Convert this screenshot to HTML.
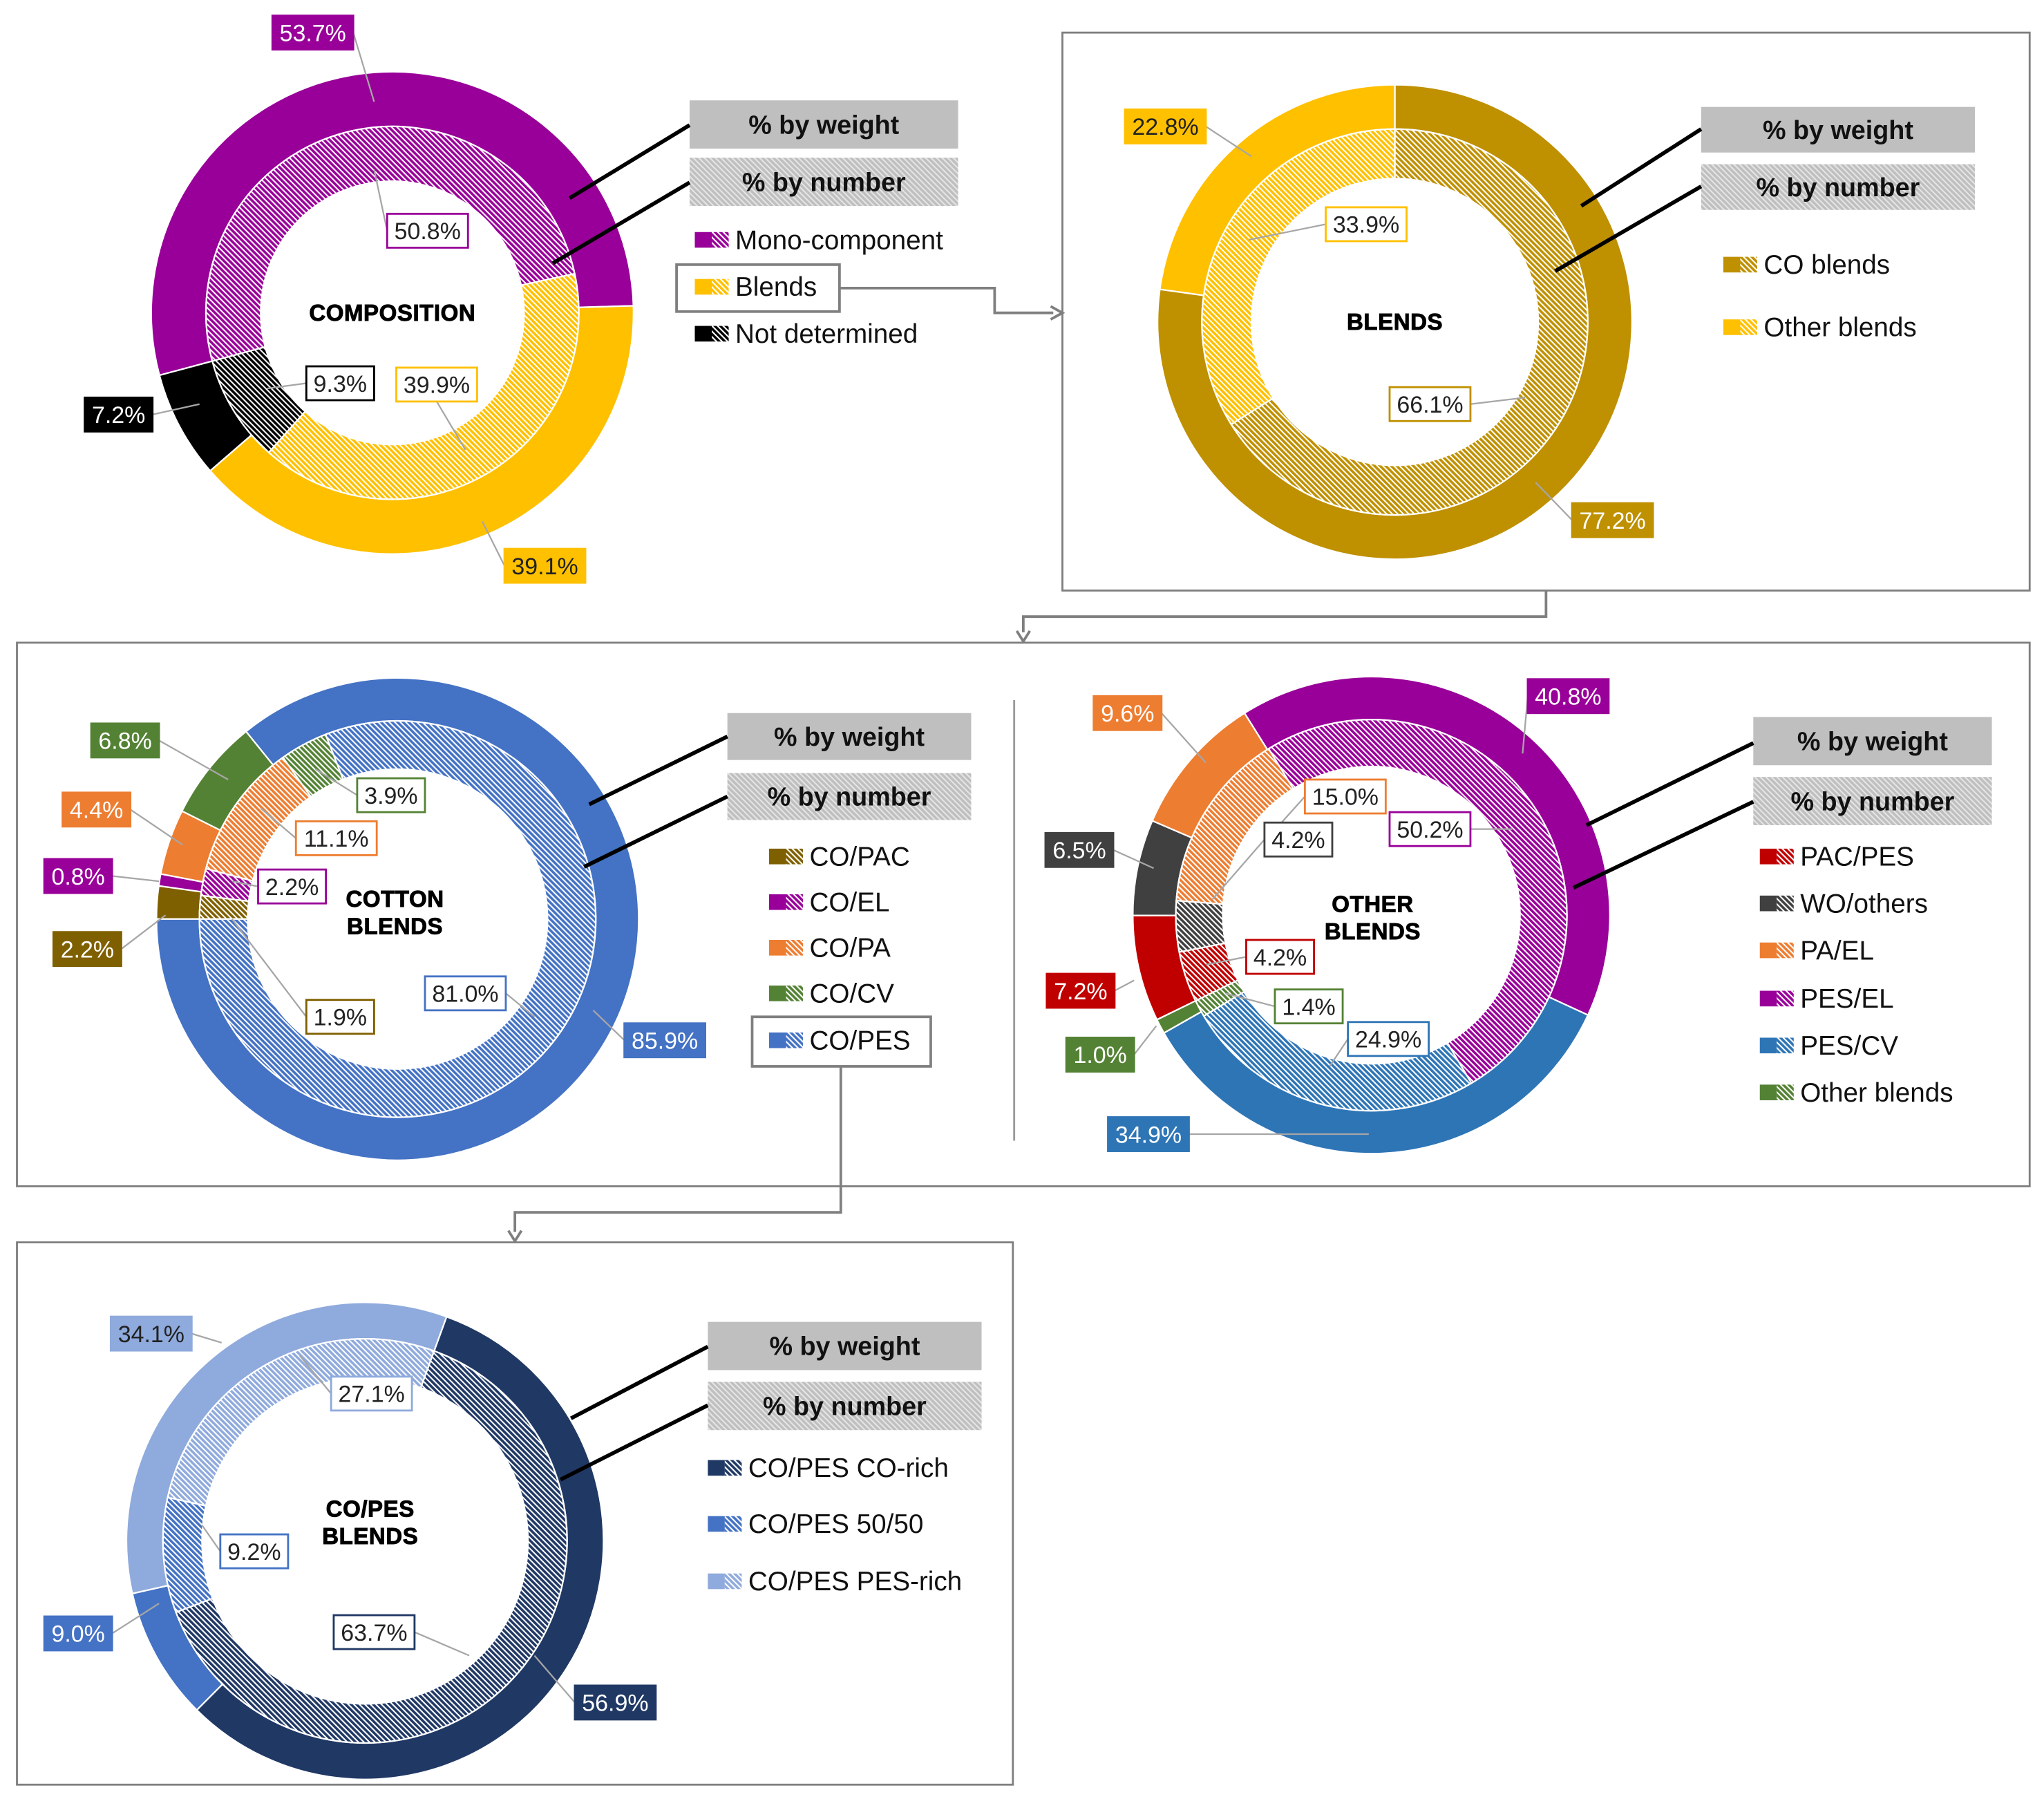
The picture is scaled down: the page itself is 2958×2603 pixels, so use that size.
<!DOCTYPE html>
<html><head><meta charset="utf-8"><style>
html,body{margin:0;padding:0;background:#fff;}
svg{display:block;font-family:"Liberation Sans",Arial,sans-serif;}
</style></head><body>
<svg id="fig" xmlns="http://www.w3.org/2000/svg" width="2958" height="2603" viewBox="0 0 1568 1380" preserveAspectRatio="none">
<defs id="defs"></defs>
<g id="frames" fill="none" stroke="#7f7f7f" stroke-width="1.5">
<rect x="815" y="25" width="742" height="428"/>
<rect x="13" y="493" width="1544" height="417"/>
<line x1="778" y1="537" x2="778" y2="875" stroke="#999"/>
<rect x="13" y="953" width="764" height="416"/>
<polyline points="644,221 763,221 763,240 808,240" stroke-width="2"/>
<polyline points="1186,453 1186,473 785,473 785,485" stroke-width="2"/>
<polyline points="645,818 645,930 395,930 395,945" stroke-width="2"/>
<path d="M806,235 L815,240 L806,245" stroke-width="2"/>
<path d="M780,484 L785,492 L790,484" stroke-width="2"/>
<path d="M390,944 L395,952 L400,944" stroke-width="2"/>
</g>
<g id="charts"></g>
</svg>
<script>
// ---------- data ----------
const compCategories = ["Mono-component","Blends","Not determined"];
const compWeight = [53.7, 39.1, 7.2];
const compNumber = [50.8, 39.9, 9.3];
const blendCategories = ["CO blends","Other blends"];
const blendWeight = [77.2, 22.8];
const blendNumber = [66.1, 33.9];
const cottonCategories = ["CO/PAC","CO/EL","CO/PA","CO/CV","CO/PES"];
const cottonWeight = [2.2, 0.8, 4.4, 6.8, 85.9];
const cottonNumber = [1.9, 2.2, 11.1, 3.9, 81.0];
const otherCategories = ["PAC/PES","WO/others","PA/EL","PES/EL","PES/CV","Other blends"];
const otherWeight = [7.2, 6.5, 9.6, 40.8, 34.9, 1.0];
const otherNumber = [4.2, 4.2, 15.0, 50.2, 24.9, 1.4];
const copesCategories = ["CO/PES CO-rich","CO/PES 50/50","CO/PES PES-rich"];
const copesWeight = [56.9, 9.0, 34.1];
const copesNumber = [63.7, 9.2, 27.1];

// ---------- layout ----------
const NS = "http://www.w3.org/2000/svg";
const defs = document.getElementById('defs');
const root = document.getElementById('charts');
function el(tag, attrs, parent){const e=document.createElementNS(NS,tag);for(const k in attrs)e.setAttribute(k,attrs[k]);(parent||root).appendChild(e);return e;}
let patN=0; const patCache={};
function pat(color){
  if(patCache[color])return patCache[color];
  const id='p'+(patN++);
  const p=el('pattern',{id:id,patternUnits:'userSpaceOnUse',width:3,height:3,patternTransform:'rotate(-45)'},defs);
  el('rect',{width:3,height:3,fill:'#fff'},p);
  el('rect',{x:0,y:0,width:1.9,height:3,fill:color},p);
  patCache[color]='url(#'+id+')';return patCache[color];
}
function pt(cx,cy,r,a){const t=a*Math.PI/180;return [cx+r*Math.sin(t),cy-r*Math.cos(t)];}
function arc(cx,cy,r0,r1,a0,a1){
  const large=(a1-a0)>180?1:0;
  const p1=pt(cx,cy,r1,a0),p2=pt(cx,cy,r1,a1),p3=pt(cx,cy,r0,a1),p4=pt(cx,cy,r0,a0);
  return `M${p1[0]},${p1[1]} A${r1},${r1} 0 ${large} 1 ${p2[0]},${p2[1]} L${p3[0]},${p3[1]} A${r0},${r0} 0 ${large} 0 ${p4[0]},${p4[1]} Z`;
}
function ring(g,cx,cy,r0,r1,vals,colors,start,hatched,cats,prefix){
  const tot=vals.reduce((a,b)=>a+b,0); let a=start;
  vals.forEach((v,i)=>{
    const a1=a+v/tot*360;
    const p=el('path',{d:arc(cx,cy,r0,r1,a,a1),fill:hatched?pat(colors[i]):colors[i],stroke:'#fff','stroke-width':1.2},g);
    
    
    a=a1;
  });
}
function label(g,txt,cx,cy,fill,tcol,border,lx,ly){
  const w=txt.length>4?62:52,h=26;
  if(lx!==undefined){
    const side = lx<cx-w/2 ? cx-w/2 : (lx>cx+w/2 ? cx+w/2 : cx);
    const sy = side===cx ? (ly<cy?cy-h/2:cy+h/2) : cy;
    const l=el('polyline',{points:`${side},${sy} ${lx},${ly}`,fill:'none',stroke:'#a6a6a6','stroke-width':1.2},g);
    
    
  }
  const r=el('rect',{x:cx-w/2,y:cy-h/2,width:w,height:h,fill:fill,stroke:border,'stroke-width':1.5},g);
  
  
  const t=el('text',{x:cx,y:cy+6.5,'text-anchor':'middle','font-size':18,fill:tcol},g);
  t.textContent=txt;
  
  
}
function headers(g,x,y1,y2,w,h,lines){
  const gray=pat('#a0a0a0');
  const a=el('rect',{x:x,y:y1,width:w,height:h,fill:'#bfbfbf'},g);
  
  
  const t1=el('text',{x:x+w/2,y:y1+h/2+7,'text-anchor':'middle','font-size':20,'font-weight':'bold',fill:'#111'},g);t1.textContent='% by weight';
  
  
  const b=el('rect',{x:x,y:y2,width:w,height:h,fill:'#d4d4d4'},g);
  
  
  el('rect',{x:x,y:y2,width:w,height:h,fill:gray,opacity:0.4},g);
  const t2=el('text',{x:x+w/2,y:y2+h/2+7,'text-anchor':'middle','font-size':20,'font-weight':'bold',fill:'#111'},g);t2.textContent='% by number';
  
  
  lines.forEach(L=>{const l=el('line',{x1:L[0],y1:L[1],x2:L[2],y2:L[3],stroke:'#000','stroke-width':3},g);
    
    });
}
function legend(g,x,ys,cats,colors,fs){
  cats.forEach((c,i)=>{
    el('rect',{x:x,y:ys[i]-6,width:13,height:12,fill:colors[i]},g);
    el('rect',{x:x+13,y:ys[i]-6,width:13,height:12,fill:pat(colors[i])},g);
    const t=el('text',{x:x+31,y:ys[i]+7,'font-size':fs||20.5,fill:'#111'},g);t.textContent=c;
    
    
  });
}
function center(g,lines,cx,cy){
  lines.forEach((s,i)=>{const t=el('text',{x:cx,y:cy+i*21-(lines.length-1)*10.5+6,'text-anchor':'middle','font-size':17.5,'font-weight':'900',fill:'#000','stroke':'#000','stroke-width':0.5,'letter-spacing':'0.3'},g);t.textContent=s;
    
    });
}
const f=v=>v.toFixed(1)+'%';

// Composition
{const g=el('g',{});
 const C=['#990099','#FFC000','#000000'];
 ring(g,301,240,143,185,compWeight,C,255,false,compCategories,'weight');
 ring(g,301,240,101,143,compNumber,C,255,true,compCategories,'number');
 center(g,['COMPOSITION'],301,240);
 headers(g,529,77,121,206,37,[[529,96,437,152],[529,140,424,202]]);
 legend(g,533,[184,220,256],compCategories,C);
 const b=el('rect',{x:519,y:203,width:125,height:36,fill:'none',stroke:'#7f7f7f','stroke-width':2},g);
 label(g,f(compWeight[0]),240,25,C[0],'#fff',C[0],287,78);
 label(g,f(compNumber[0]),328,177,'#fff','#222',C[0],287,130);
 label(g,f(compNumber[2]),261,294,'#fff','#222','#000',205,298);
 label(g,f(compNumber[1]),335,295,'#fff','#222',C[1],357,345);
 label(g,f(compWeight[2]),91,318,'#000','#fff','#000',153,310);
 label(g,f(compWeight[1]),418,434,C[1],'#222',C[1],370,400);
}
// Blends
{const g=el('g',{});
 const C=['#BF9000','#FFC000'];
 ring(g,1070,247,148,182,blendWeight,C,0,false,blendCategories,'weight');
 ring(g,1070,247,110,148,blendNumber,C,0,true,blendCategories,'number');
 center(g,['BLENDS'],1070,247);
 headers(g,1305,82,126,210,35,[[1305,99,1213,158],[1305,143,1193,208]]);
 legend(g,1322,[203,251],blendCategories,C);
 label(g,f(blendWeight[1]),894,97,C[1],'#222',C[1],960,120);
 label(g,f(blendNumber[1]),1048,172,'#fff','#222',C[1],958,184);
 label(g,f(blendNumber[0]),1097,310,'#fff','#222',C[0],1170,305);
 label(g,f(blendWeight[0]),1237,399,C[0],'#fff',C[0],1178,370);
}
// Cotton blends
{const g=el('g',{});
 const C=['#7F6000','#990099','#ED7D31','#548235','#4472C4'];
 ring(g,305,705,152,185,cottonWeight,C,270,false,cottonCategories,'weight');
 ring(g,305,705,115,152,cottonNumber,C,270,true,cottonCategories,'number');
 center(g,['COTTON','BLENDS'],303,700);
 headers(g,558,547,593,187,36,[[558,565,452,617],[558,611,448,665]]);
 legend(g,590,[657,692,727,762,798],cottonCategories,C);
 const b=el('rect',{x:577,y:780,width:137,height:38,fill:'none',stroke:'#7f7f7f','stroke-width':2},g);
 label(g,f(cottonWeight[3]),96,568,C[3],'#fff',C[3],175,598);
 label(g,f(cottonWeight[2]),74,621,C[2],'#fff',C[2],140,648);
 label(g,f(cottonWeight[1]),60,672,C[1],'#fff',C[1],122,676);
 label(g,f(cottonWeight[0]),67,728,C[0],'#fff',C[0],127,702);
 label(g,f(cottonNumber[3]),300,610,'#fff','#222',C[3],242,590);
 label(g,f(cottonNumber[2]),258,643,'#fff','#222',C[2],200,620);
 label(g,f(cottonNumber[1]),224,680,'#fff','#222',C[1],178,676);
 label(g,f(cottonNumber[0]),261,780,'#fff','#222',C[0],178,705);
 label(g,f(cottonNumber[4]),357,762,'#fff','#222',C[4],410,780);
 label(g,f(cottonWeight[4]),510,798,C[4],'#fff',C[4],455,775);
}
// Other blends
{const g=el('g',{});
 const C=['#C00000','#404040','#ED7D31','#990099','#2E75B6','#548235'];
 ring(g,1052,702,150,183,otherWeight,C,244,false,otherCategories,'weight');
 ring(g,1052,702,114,150,otherNumber,C,244,true,otherCategories,'number');
 center(g,['OTHER','BLENDS'],1053,704);
 headers(g,1345,550,596,183,37,[[1345,570,1217,633],[1345,615,1207,681]]);
 legend(g,1350,[657,693,729,766,802,838],otherCategories,C);
 label(g,f(otherWeight[2]),865,547,C[2],'#fff',C[2],925,585);
 label(g,f(otherWeight[3]),1203,534,C[3],'#fff',C[3],1168,578);
 label(g,f(otherNumber[2]),1032,611,'#fff','#222',C[2],975,640);
 label(g,f(otherNumber[3]),1097,636,'#fff','#222',C[3],1160,636);
 label(g,f(otherNumber[1]),996,644,'#fff','#222',C[1],930,690);
 label(g,f(otherWeight[1]),828,652,C[1],'#fff',C[1],885,666);
 label(g,f(otherNumber[0]),982,734,'#fff','#222',C[0],925,740);
 label(g,f(otherWeight[0]),829,760,C[0],'#fff',C[0],870,752);
 label(g,f(otherNumber[5]),1004,772,'#fff','#222',C[5],940,762);
 label(g,f(otherWeight[5]),844,809,C[5],'#fff',C[5],887,787);
 label(g,f(otherNumber[4]),1065,797,'#fff','#222',C[4],1020,818);
 label(g,f(otherWeight[4]),881,870,C[4],'#fff',C[4],1050,870);
}
// CO/PES blends
{const g=el('g',{});
 const C=['#203864','#4472C4','#8FAADC'];
 ring(g,280,1182,155,183,copesWeight,C,20,false,copesCategories,'weight');
 ring(g,280,1182,125,155,copesNumber,C,20,true,copesCategories,'number');
 center(g,['CO/PES','BLENDS'],284,1168);
 headers(g,543,1014,1060,210,37,[[543,1033,438,1088],[543,1078,430,1135]]);
 legend(g,543,[1126,1169,1213],copesCategories,C);
 label(g,f(copesWeight[2]),116,1023,C[2],'#222',C[2],170,1030);
 label(g,f(copesNumber[2]),285,1069,'#fff','#222',C[2],230,1040);
 label(g,f(copesNumber[1]),195,1190,'#fff','#222',C[1],155,1170);
 label(g,f(copesWeight[1]),60,1253,C[1],'#fff',C[1],122,1230);
 label(g,f(copesNumber[0]),287,1252,'#fff','#222',C[0],360,1270);
 label(g,f(copesWeight[0]),472,1306,C[0],'#fff',C[0],410,1270);
}
</script>
</body></html>
